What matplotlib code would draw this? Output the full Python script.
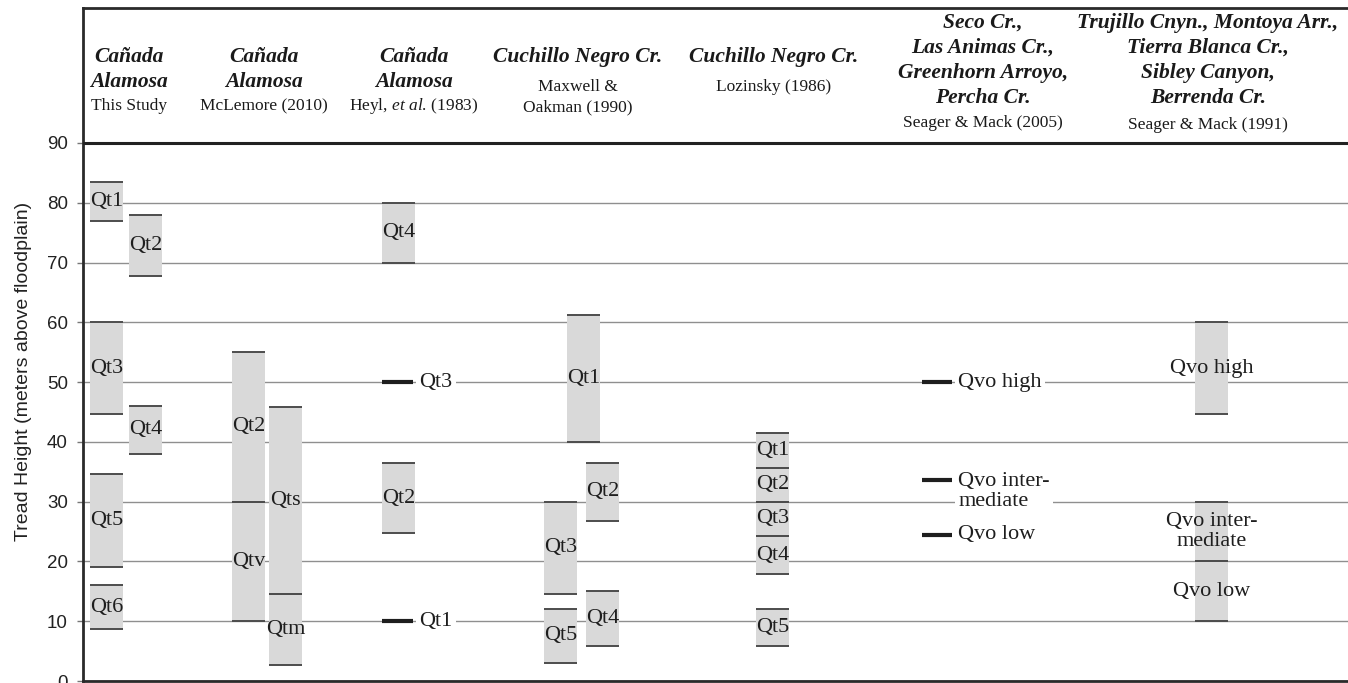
import matplotlib
matplotlib.use('Agg')
import matplotlib.pyplot as plt

plt.rcParams['mathtext.fontset'] = 'custom'
plt.rcParams['mathtext.rm'] = 'Liberation Serif'
plt.rcParams['mathtext.it'] = 'Liberation Serif:italic'

# ---- terrace tread heights (m above floodplain) ----
study_units = ['Qt1', 'Qt2', 'Qt3', 'Qt4', 'Qt5', 'Qt6']
study_base = [77.0, 67.7, 44.6, 38.0, 19.0, 8.7]
study_top = [83.5, 78.0, 60.0, 46.0, 34.6, 16.0]

mclemore_units = ['Qt2', 'Qtv', 'Qts', 'Qtm']
mclemore_base = [30.0, 10.0, 14.5, 2.7]
mclemore_top = [55.0, 30.0, 45.8, 14.5]

heyl_units = ['Qt4', 'Qt2']
heyl_base = [70.0, 24.7]
heyl_top = [80.0, 36.5]
heyl_line_units = ['Qt3', 'Qt1']
heyl_line_height = [50.0, 10.0]

maxwell_units = ['Qt1', 'Qt2', 'Qt3', 'Qt4', 'Qt5']
maxwell_base = [40.0, 26.8, 14.5, 5.8, 3.0]
maxwell_top = [61.2, 36.5, 30.0, 15.0, 12.1]

lozinsky_units = ['Qt1', 'Qt2', 'Qt3', 'Qt4', 'Qt5']
lozinsky_base = [35.7, 30.0, 24.2, 17.9, 5.8]
lozinsky_top = [41.5, 35.7, 30.0, 24.2, 12.1]

seager05_units = ['Qvo high', 'Qvo inter-\nmediate', 'Qvo low']
seager05_height = [50.0, 33.6, 24.5]

seager91_units = ['Qvo high', 'Qvo inter-\nmediate', 'Qvo low']
seager91_base = [44.7, 20.0, 10.0]
seager91_top = [60.0, 30.0, 20.0]

sites = ['Cañada\nAlamosa', 'Cañada\nAlamosa', 'Cañada\nAlamosa',
         'Cuchillo Negro Cr.', 'Cuchillo Negro Cr.',
         'Seco Cr.,\nLas Animas Cr.,\nGreenhorn Arroyo,\nPercha Cr.',
         'Trujillo Cnyn., Montoya Arr.,\nTierra Blanca Cr.,\nSibley Canyon,\nBerrenda Cr.']
sources = ['This Study', 'McLemore (2010)',
           r'$\mathrm{Heyl,}\,\mathit{et\ al.}\,\mathrm{(1983)}$',
           'Maxwell &\nOakman (1990)', 'Lozinsky (1986)',
           'Seager & Mack (2005)', 'Seager & Mack (1991)']

yticks = [0, 10, 20, 30, 40, 50, 60, 70, 80, 90]

# ---- layout (x in pixels across the panel) ----
W, H = 1348, 683
Y0_PX, PX_PER_M = 681, 5.978
BAR_W = 33
BAR_C = '#d9d9d9'
EDGE_C = '#4d4d4d'
SERIF = 'Liberation Serif'


def ypx(p):
    # header rows are given as pixel rows from the top
    return (Y0_PX - p) / PX_PER_M


fig = plt.figure(figsize=(W / 100, H / 100), dpi=100)
ax = fig.add_axes([83 / W, (H - Y0_PX) / H, (W - 83) / W, (Y0_PX - 8) / H])
ax.set_xlim(83, W)
ax.set_ylim(0, ypx(8))

ax.set_yticks(yticks)
ax.set_xticks([])
ax.grid(axis='y', color='#8f8f8f', lw=1.0, zorder=0)
ax.set_axisbelow(True)
ax.axhline(90, color='#222222', lw=2.2, zorder=5)
for s in ['left', 'top', 'bottom']:
    ax.spines[s].set_color('#2a2a2a')
    ax.spines[s].set_linewidth(2.0)
ax.spines['right'].set_visible(False)
ax.tick_params(axis='y', length=4.5, width=1, color='#777777', pad=6.5,
               labelsize=13.5, labelcolor='#222222')
for lab in ax.get_yticklabels():
    lab.set_family('Liberation Sans')
ax.set_ylabel('Tread Height (meters above floodplain)', fontsize=14,
              family='Liberation Sans', color='#222222')
ax.yaxis.set_label_coords(-0.040, 0.46)


def draw_units(xs, units, base, top):
    heights = [t - b for b, t in zip(base, top)]
    ax.bar(xs, heights, bottom=base, width=BAR_W, align='edge',
           color=BAR_C, zorder=2)
    for x, u, b, t in zip(xs, units, base, top):
        ax.hlines([b, t], x, x + BAR_W, color=EDGE_C, lw=1.4, zorder=3)
        ax.text(x + BAR_W / 2, (b + t) / 2, u, ha='center', va='center',
                multialignment='center', fontsize=16, family=SERIF,
                color='#1e1e1e', linespacing=1.1, zorder=4)


def draw_lines(x, units, heights, length=31):
    ax.hlines(heights, x, x + length, color='#1e1e1e', lw=3, zorder=3)
    for u, h in zip(units, heights):
        dy = -8 if '\n' in u else 0
        ax.annotate(u, xy=(x + length, h), xytext=(4.5, dy),
                    textcoords='offset points', ha='left', va='center',
                    fontsize=16, family=SERIF, color='#1e1e1e',
                    linespacing=1.1, zorder=4,
                    bbox=dict(boxstyle='square,pad=0.15', fc='white', ec='none'))


draw_units([90, 129, 90, 129, 90, 90], study_units, study_base, study_top)
draw_units([232, 232, 269, 269], mclemore_units, mclemore_base, mclemore_top)
draw_units([382, 382], heyl_units, heyl_base, heyl_top)
draw_lines(382, heyl_line_units, heyl_line_height)
draw_units([567, 586, 544, 586, 544], maxwell_units, maxwell_base, maxwell_top)
draw_units([756] * 5, lozinsky_units, lozinsky_base, lozinsky_top)
draw_lines(922, seager05_units, seager05_height, length=30)
draw_units([1195] * 3, seager91_units, seager91_base, seager91_top)

# ---- column headers ----
col_x = [129, 264, 414, 578, 774, 983, 1208]
site_row = [57, 57, 57, 57, 57, 23, 23]
src_row = [106, 106, 106, 87, 87, 123, 125]
for cx, site, src, r1, r2 in zip(col_x, sites, sources, site_row, src_row):
    for i, line in enumerate(site.split('\n')):
        ax.text(cx, ypx(r1 + 25 * i), line, ha='center', va='center',
                fontsize=15.5, family=SERIF, style='italic',
                weight='bold', color='#1a1a1a')
    for i, line in enumerate(src.split('\n')):
        ax.text(cx, ypx(r2 + 20 * i), line, ha='center', va='center',
                fontsize=12.5, family=SERIF, color='#1a1a1a')

fig.savefig('out.png', dpi=100)
